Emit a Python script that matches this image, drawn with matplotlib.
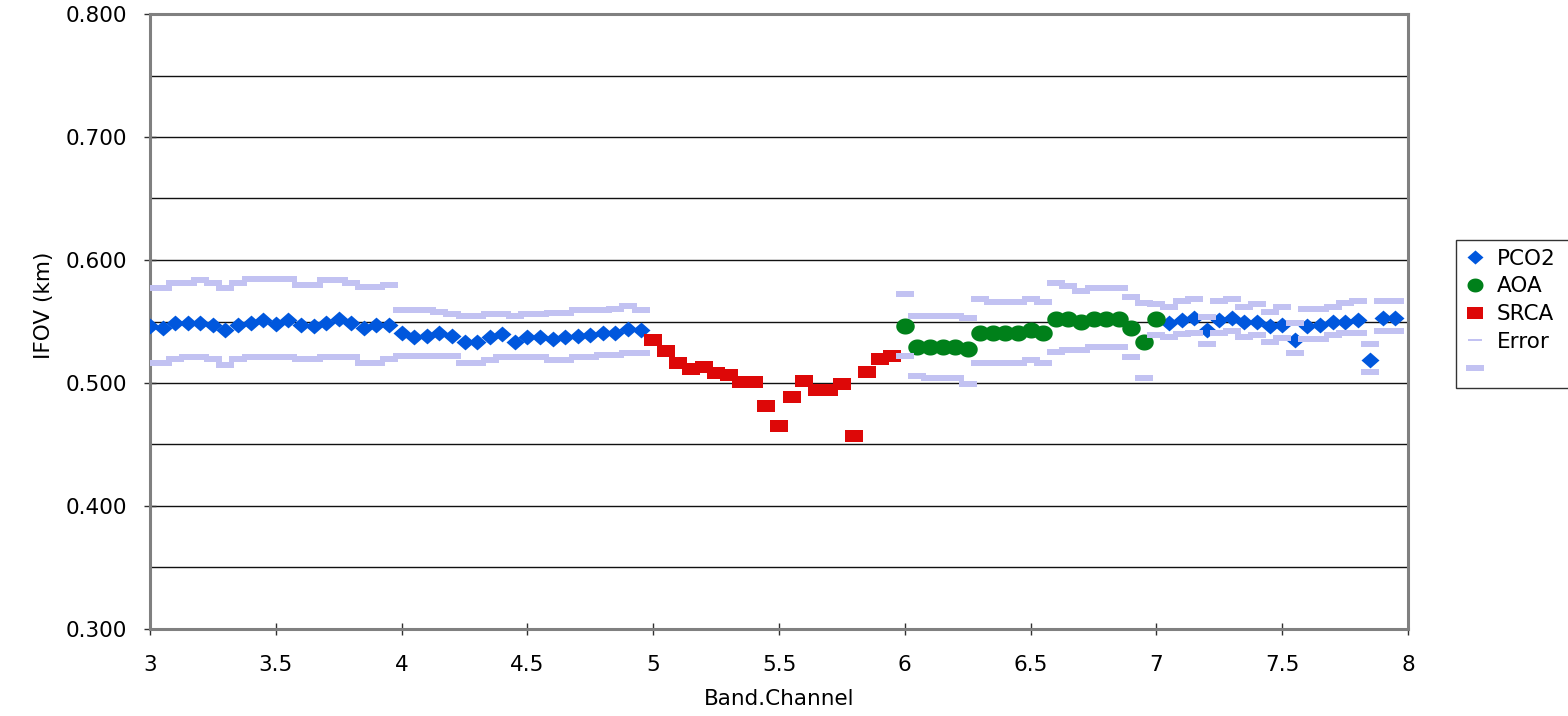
import numpy as np
import matplotlib
matplotlib.use('Agg')
import matplotlib.pyplot as plt
from matplotlib.lines import Line2D
from matplotlib.ticker import MultipleLocator, FormatStrFormatter, FuncFormatter

plt.rcParams['font.family'] = ['DejaVu Sans']

# ---------------- data ----------------
pco2_x = [3.00, 3.05, 3.10, 3.15, 3.20, 3.25, 3.30, 3.35, 3.40, 3.45,
          3.50, 3.55, 3.60, 3.65, 3.70, 3.75, 3.80, 3.85, 3.90, 3.95,
          4.00, 4.05, 4.10, 4.15, 4.20, 4.25, 4.30, 4.35, 4.40, 4.45,
          4.50, 4.55, 4.60, 4.65, 4.70, 4.75, 4.80, 4.85, 4.90, 4.95,
          7.05, 7.10, 7.15, 7.20, 7.25, 7.30, 7.35, 7.40, 7.45, 7.50,
          7.55, 7.60, 7.65, 7.70, 7.75, 7.80, 7.85, 7.90, 7.95]
pco2_y = [0.546, 0.545, 0.549, 0.549, 0.549, 0.547, 0.543, 0.547, 0.549, 0.551,
          0.548, 0.551, 0.547, 0.546, 0.549, 0.552, 0.549, 0.545, 0.547, 0.547,
          0.541, 0.537, 0.538, 0.541, 0.538, 0.533, 0.533, 0.537, 0.540, 0.533,
          0.537, 0.537, 0.536, 0.537, 0.538, 0.539, 0.541, 0.541, 0.544, 0.543,
          0.549, 0.551, 0.553, 0.543, 0.551, 0.553, 0.550, 0.550, 0.546, 0.547,
          0.535, 0.546, 0.547, 0.550, 0.550, 0.551, 0.519, 0.553, 0.553]

aoa_x = [6.00, 6.05, 6.10, 6.15, 6.20, 6.25, 6.30, 6.35, 6.40, 6.45,
         6.50, 6.55, 6.60, 6.65, 6.70, 6.75, 6.80, 6.85, 6.90, 6.95, 7.00]
aoa_y = [0.546, 0.529, 0.529, 0.529, 0.529, 0.528, 0.541, 0.541, 0.541, 0.541,
         0.543, 0.541, 0.552, 0.552, 0.550, 0.552, 0.552, 0.552, 0.5445, 0.533, 0.552]

srca_x = [5.00, 5.05, 5.10, 5.15, 5.20, 5.25, 5.30, 5.35, 5.40, 5.45,
          5.50, 5.55, 5.60, 5.65, 5.70, 5.75, 5.80, 5.85, 5.90, 5.95]
srca_y = [0.535, 0.526, 0.5165, 0.511, 0.513, 0.508, 0.5065, 0.501, 0.501, 0.481,
          0.465, 0.489, 0.502, 0.494, 0.494, 0.499, 0.457, 0.509, 0.5195, 0.522]

err_x = [3.00, 3.05, 3.10, 3.15, 3.20, 3.25, 3.30, 3.35, 3.40, 3.45,
         3.50, 3.55, 3.60, 3.65, 3.70, 3.75, 3.80, 3.85, 3.90, 3.95,
         4.00, 4.05, 4.10, 4.15, 4.20, 4.25, 4.30, 4.35, 4.40, 4.45,
         4.50, 4.55, 4.60, 4.65, 4.70, 4.75, 4.80, 4.85, 4.90, 4.95,
         6.00, 6.05, 6.10, 6.15, 6.20, 6.25, 6.30, 6.35, 6.40, 6.45,
         6.50, 6.55, 6.60, 6.65, 6.70, 6.75, 6.80, 6.85, 6.90, 6.95, 7.00,
         7.05, 7.10, 7.15, 7.20, 7.25, 7.30, 7.35, 7.40, 7.45, 7.50,
         7.55, 7.60, 7.65, 7.70, 7.75, 7.80, 7.85, 7.90, 7.95]
err_hi = [0.5775, 0.5775, 0.5816, 0.5816, 0.5837, 0.5816, 0.5775, 0.5816, 0.5843, 0.5843,
          0.5843, 0.5843, 0.5797, 0.5797, 0.5837, 0.5837, 0.5816, 0.5778, 0.5778, 0.5797,
          0.5593, 0.5593, 0.5593, 0.5580, 0.5561, 0.5545, 0.5545, 0.5561, 0.5561, 0.5545,
          0.5561, 0.5561, 0.5572, 0.5572, 0.5590, 0.5590, 0.5590, 0.5602, 0.5626, 0.5596,
          0.5720, 0.5545, 0.5545, 0.5545, 0.5545, 0.5530, 0.5680, 0.5660, 0.5660, 0.5660,
          0.5680, 0.5660, 0.5816, 0.5790, 0.5750, 0.5775, 0.5775, 0.5775, 0.5697, 0.5650, 0.5640,
          0.5620, 0.5667, 0.5683, 0.5540, 0.5667, 0.5683, 0.5620, 0.5642, 0.5575, 0.5615,
          0.5490, 0.5600, 0.5600, 0.5620, 0.5648, 0.5667, 0.5315, 0.5667, 0.5667]
err_lo = [0.5165, 0.5165, 0.5192, 0.5214, 0.5214, 0.5192, 0.5146, 0.5192, 0.5214, 0.5214,
          0.5214, 0.5214, 0.5192, 0.5192, 0.5214, 0.5214, 0.5214, 0.5165, 0.5165, 0.5192,
          0.5220, 0.5220, 0.5220, 0.5220, 0.5220, 0.5165, 0.5165, 0.5190, 0.5209, 0.5209,
          0.5209, 0.5209, 0.5190, 0.5190, 0.5214, 0.5214, 0.5228, 0.5228, 0.5241, 0.5241,
          0.5220, 0.5057, 0.5040, 0.5040, 0.5040, 0.4990, 0.5165, 0.5165, 0.5165, 0.5165,
          0.5187, 0.5165, 0.5254, 0.5270, 0.5270, 0.5295, 0.5295, 0.5295, 0.5210, 0.5038, 0.5390,
          0.5370, 0.5400, 0.5410, 0.5317, 0.5410, 0.5425, 0.5370, 0.5390, 0.5336, 0.5363,
          0.5241, 0.5355, 0.5355, 0.5390, 0.5404, 0.5404, 0.5087, 0.5425, 0.5425]

y_ticks_fmt = '%.3f'
series_labels = ['PCO2', 'AOA', 'SRCA', 'Error', ' ']

# ---------------- style ----------------
C_BLUE = '#0057DD'
C_GREEN = '#00801A'
C_RED = '#DD0808'
C_ERR = '#C2C2F2'
FS = 15.5

diamond = [(-1, 0), (0, 0.88), (1, 0), (0, -0.88)]
rect = [(-1, -0.72), (1, -0.72), (1, 0.72), (-1, 0.72)]
t = np.linspace(0, 2 * np.pi, 48, endpoint=False)
ellipse = list(zip(np.cos(t), 0.87 * np.sin(t)))
dash_thick = [(-1, -0.28), (1, -0.28), (1, 0.28), (-1, 0.28)]
dash_thin = [(-1, -0.09), (1, -0.09), (1, 0.09), (-1, 0.09)]

W, H = 1568, 716
fig = plt.figure(figsize=(W / 100, H / 100), dpi=100)
ax = fig.add_axes([150 / W, 1 - 629 / H, 1258 / W, 615 / H])

ax.set_xlim(3, 8)
ax.set_ylim(0.3, 0.8)
ax.yaxis.set_major_locator(MultipleLocator(0.1))
ax.yaxis.set_minor_locator(MultipleLocator(0.05))
ax.yaxis.set_major_formatter(FormatStrFormatter(y_ticks_fmt))
ax.xaxis.set_major_locator(MultipleLocator(0.5))
ax.xaxis.set_major_formatter(FuncFormatter(lambda v, p: f'{v:g}'))

ax.grid(axis='y', which='both', color='#111111', lw=1.0)
ax.set_axisbelow(True)
ax.tick_params(which='minor', length=0)
ax.tick_params(axis='both', which='major', direction='inout', length=9,
               width=1, color='#303030', labelsize=FS)
ax.tick_params(axis='y', pad=12)
ax.tick_params(axis='x', pad=14)
for s in ax.spines.values():
    s.set_color('#808080')
    s.set_linewidth(2.2)

ms_pt = 1 / 1.389  # pixels -> points at 100 dpi
ax.plot(pco2_x, pco2_y, ls='none', marker=diamond, ms=18 * ms_pt, color=C_BLUE, mew=0, zorder=3)
ax.plot(aoa_x, aoa_y, ls='none', marker=ellipse, ms=18.5 * ms_pt, color=C_GREEN, mew=0, zorder=3)
ax.plot(srca_x, srca_y, ls='none', marker=rect, ms=18 * ms_pt, color=C_RED, mew=0, zorder=3)
ax.plot(err_x, err_hi, ls='none', marker=dash_thick, ms=19 * ms_pt, color=C_ERR, mew=0, zorder=4)
ax.plot(err_x, err_lo, ls='none', marker=dash_thick, ms=19 * ms_pt, color=C_ERR, mew=0, zorder=4)

ax.set_ylabel('IFOV (km)', fontsize=FS)
ax.yaxis.set_label_coords(-0.0765, 0.527)
ax.set_xlabel('Band.Channel', fontsize=FS)
ax.xaxis.set_label_coords(0.5, -0.0976)

handles = [
    Line2D([], [], ls='none', marker=diamond, ms=16 * ms_pt, color=C_BLUE, mew=0),
    Line2D([], [], ls='none', marker=ellipse, ms=16 * ms_pt, color=C_GREEN, mew=0),
    Line2D([], [], ls='none', marker=rect, ms=16 * ms_pt, color=C_RED, mew=0),
    Line2D([], [], ls='none', marker=dash_thin, ms=15 * ms_pt, color=C_ERR, mew=0),
    Line2D([], [], ls='none', marker=dash_thick, ms=18 * ms_pt, color=C_ERR, mew=0),
]
leg = fig.legend(handles, series_labels, loc='upper left',
                 bbox_to_anchor=(1456 / W, 1 - 405 / H, 130 / W, 165 / H),
                 bbox_transform=fig.transFigure, mode='expand',
                 frameon=True, fancybox=False, edgecolor='black',
                 fontsize=FS, labelspacing=0.36, handlelength=1.0,
                 handletextpad=0.5, borderpad=0.4, borderaxespad=0)
leg.get_frame().set_linewidth(1.0)

fig.savefig('out.png', dpi=100)
